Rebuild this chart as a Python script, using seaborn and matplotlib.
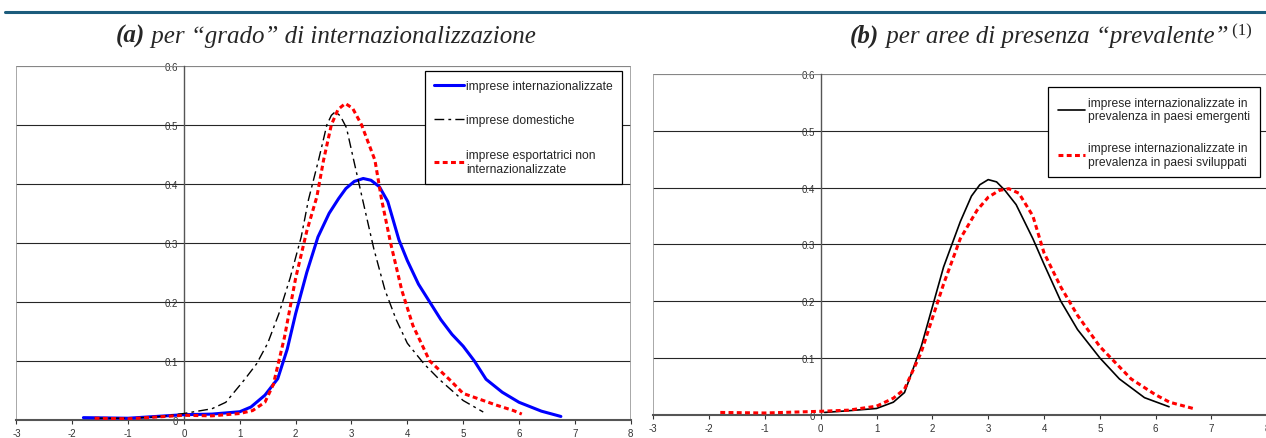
import matplotlib
matplotlib.use("Agg")
import matplotlib.pyplot as plt
import seaborn as sns
from matplotlib.lines import Line2D

# ---------------- data ----------------
xa_int = [-1.8, -1.0, 0.0, 0.5, 1.0, 1.2, 1.45, 1.68, 1.85, 2.0, 2.2, 2.4, 2.6, 2.77, 2.9, 3.05, 3.21,
          3.35, 3.5, 3.65, 3.85, 4.0, 4.2, 4.4, 4.6, 4.8, 5.0, 5.2, 5.41, 5.7, 6.0, 6.4, 6.75]
ya_int = [0.004, 0.003, 0.009, 0.010, 0.014, 0.022, 0.042, 0.070, 0.120, 0.180, 0.250, 0.310, 0.350,
          0.375, 0.392, 0.404, 0.409, 0.406, 0.395, 0.370, 0.305, 0.270, 0.230, 0.200, 0.170, 0.145,
          0.125, 0.100, 0.069, 0.047, 0.030, 0.015, 0.006]

xa_dom = [-1.6, -1.0, -0.5, 0.0, 0.5, 0.75, 1.09, 1.3, 1.5, 1.7, 1.9, 2.1, 2.23, 2.41, 2.56, 2.64,
          2.71, 2.8, 2.91, 3.04, 3.2, 3.4, 3.6, 3.8, 4.0, 4.3, 4.57, 5.0, 5.36]
ya_dom = [0.003, 0.003, 0.005, 0.011, 0.019, 0.030, 0.069, 0.095, 0.130, 0.180, 0.240, 0.310, 0.373,
          0.440, 0.500, 0.516, 0.522, 0.515, 0.495, 0.440, 0.373, 0.290, 0.220, 0.170, 0.130, 0.095,
          0.069, 0.033, 0.0135]

xa_exp = [-1.6, -1.0, 0.0, 0.5, 1.0, 1.23, 1.45, 1.6, 1.8, 2.0, 2.2, 2.38, 2.5, 2.64, 2.76, 2.89,
          3.02, 3.18, 3.42, 3.54, 3.7, 3.9, 4.1, 4.4, 4.75, 5.0, 5.3, 5.6, 5.9, 6.05]
ya_exp = [0.003, 0.002, 0.008, 0.007, 0.011, 0.016, 0.030, 0.060, 0.140, 0.240, 0.320, 0.378, 0.440,
          0.500, 0.526, 0.536, 0.528, 0.500, 0.440, 0.373, 0.300, 0.220, 0.160, 0.100, 0.069, 0.045,
          0.035, 0.025, 0.016, 0.010]

xb_emer = [0.07, 0.5, 1.0, 1.3, 1.5, 1.8, 2.0, 2.2, 2.5, 2.7, 2.85, 3.0, 3.15, 3.3, 3.5, 3.8, 4.0,
           4.3, 4.6, 5.0, 5.35, 5.8, 6.24]
yb_emer = [0.004, 0.007, 0.011, 0.022, 0.039, 0.120, 0.190, 0.260, 0.340, 0.385, 0.405, 0.414, 0.410,
           0.395, 0.370, 0.310, 0.265, 0.200, 0.150, 0.100, 0.063, 0.030, 0.014]

xb_svil = [-1.8, -1.0, 0.0, 0.5, 1.0, 1.3, 1.5, 1.8, 2.0, 2.2, 2.5, 2.8, 3.0, 3.2, 3.37, 3.55, 3.8,
           4.0, 4.3, 4.6, 5.0, 5.56, 6.0, 6.25, 6.67]
yb_svil = [0.004, 0.003, 0.006, 0.008, 0.015, 0.029, 0.045, 0.110, 0.170, 0.230, 0.310, 0.360, 0.383,
           0.395, 0.398, 0.390, 0.350, 0.285, 0.225, 0.175, 0.120, 0.063, 0.035, 0.022, 0.011]

lab_int = "imprese internazionalizzate"
lab_dom = "imprese domestiche"
lab_exp = "imprese esportatrici non\ninternazionalizzate"
lab_emer = "imprese internazionalizzate in\nprevalenza in paesi emergenti"
lab_svil = "imprese internazionalizzate in\nprevalenza in paesi sviluppati"

xticks = [-3, -2, -1, 0, 1, 2, 3, 4, 5, 6, 7, 8]
yticks = [0, 0.1, 0.2, 0.3, 0.4, 0.5, 0.6]
ytick_labels = ["0", "0.1", "0.2", "0.3", "0.4", "0.5", "0.6"]

# ---------------- style ----------------
sns.set_style("white")
plt.rcParams["font.family"] = ["Liberation Sans", "DejaVu Sans"]

W, H = 1266, 439
fig = plt.figure(figsize=(W / 100, H / 100), dpi=100)

ax1 = fig.add_axes([16.4 / W, 1 - 421 / H, 614.3 / W, 354.3 / H])
ax2 = fig.add_axes([653.3 / W, 1 - 415.7 / H, 614 / W, 340.7 / H])


def style_axes(ax):
    ax.set_xlim(-3, 8)
    ax.set_ylim(0, 0.6)
    ax.set_xticks(xticks)
    ax.set_xticklabels([str(t) for t in xticks])
    ax.set_yticks(yticks)
    ax.set_yticklabels(ytick_labels)
    ax.yaxis.grid(True, color="#262626", lw=0.8, zorder=0)
    ax.xaxis.grid(False)
    for s in ["top", "right"]:
        ax.spines[s].set_visible(False)
    ax.spines["left"].set_position(("data", 0))
    ax.spines["left"].set_color("#555555")
    ax.spines["left"].set_linewidth(1.0)
    ax.spines["bottom"].set_color("#555555")
    ax.spines["bottom"].set_linewidth(1.5)
    ax.tick_params(axis="x", direction="out", length=3, width=0.8, color="#333333",
                   labelsize=7, pad=3, bottom=True, labelcolor="#333333")
    ax.tick_params(axis="y", length=0, labelsize=7, pad=4, left=False, labelcolor="#333333")
    # outer frame (gray)
    for xv in (-3, 8):
        ax.axvline(xv, color="#9a9a9a", lw=1.2, zorder=1)
    ax.axhline(0.6, color="#9a9a9a", lw=1.2, zorder=1)
    ax.set_xlabel("")
    ax.set_ylabel("")
    ax.set_facecolor("white")


# ---- panel (a) ----
sns.lineplot(x=xa_int, y=ya_int, ax=ax1, color="#0000ff", lw=2.2, sort=False,
             estimator=None, label=lab_int, zorder=3)
sns.lineplot(x=xa_dom, y=ya_dom, ax=ax1, color="black", lw=1.0, sort=False,
             estimator=None, label=lab_dom, linestyle=(0, (7, 3, 2, 3)), zorder=4)
sns.lineplot(x=xa_exp, y=ya_exp, ax=ax1, color="#ff0000", lw=2.2, sort=False,
             estimator=None, label=lab_exp, linestyle=(0, (1.6, 1.1)), zorder=5)
style_axes(ax1)
leg1 = ax1.legend(loc="upper right", bbox_to_anchor=(0.986, 0.985), fontsize=8.7,
                  frameon=True, fancybox=False, edgecolor="black", framealpha=1,
                  handlelength=2.5, handletextpad=0.2, labelspacing=1.85, borderpad=0.75,
                  borderaxespad=0.0)
leg1.get_frame().set_linewidth(0.9)

# ---- panel (b) ----
sns.lineplot(x=xb_emer, y=yb_emer, ax=ax2, color="black", lw=1.2, sort=False,
             estimator=None, label=lab_emer, zorder=3)
sns.lineplot(x=xb_svil, y=yb_svil, ax=ax2, color="#ff0000", lw=2.2, sort=False,
             estimator=None, label=lab_svil, linestyle=(0, (1.6, 1.1)), zorder=4)
style_axes(ax2)
leg2 = ax2.legend(loc="upper right", bbox_to_anchor=(0.988, 0.962), fontsize=8.7,
                  frameon=True, fancybox=False, edgecolor="black", framealpha=1,
                  handlelength=2.2, handletextpad=0.3, labelspacing=1.6, borderpad=0.8,
                  borderaxespad=0.0)
leg2.get_frame().set_linewidth(0.9)

# ---- top rule ----
fig.add_artist(Line2D([5 / W, 1.0], [1 - 13 / H, 1 - 13 / H], color="#1c5c7c", lw=2.2))

# ---- titles (mixed styles) ----
serif = ["Liberation Serif", "DejaVu Serif"]
fig.canvas.draw()
renderer = fig.canvas.get_renderer()


def place_run(center_px, base_px, parts):
    widths = []
    for txt, kw, dy in parts:
        t = fig.text(0, 0, txt, family=serif, **kw)
        widths.append(t.get_window_extent(renderer=renderer).width)
        t.remove()
    x = center_px - sum(widths) / 2
    for (txt, kw, dy), w in zip(parts, widths):
        fig.text(x / W, 1 - (base_px - dy) / H, txt, va="baseline", ha="left",
                 family=serif, **kw)
        x += w


place_run(326, 43, [
    ("(a)", dict(fontsize=18, fontweight="bold", fontstyle="italic"), 0),
    (" per \u201cgrado\u201d di internazionalizzazione", dict(fontsize=18, fontstyle="italic"), 0),
])
place_run(1051, 43, [
    ("(b)", dict(fontsize=18, fontweight="bold", fontstyle="italic"), 0),
    (" per aree di presenza \u201cprevalente\u201d", dict(fontsize=18, fontstyle="italic"), 0),
    (" (1)", dict(fontsize=12), 8),
])

fig.savefig("out.png", dpi=100, facecolor="white")
